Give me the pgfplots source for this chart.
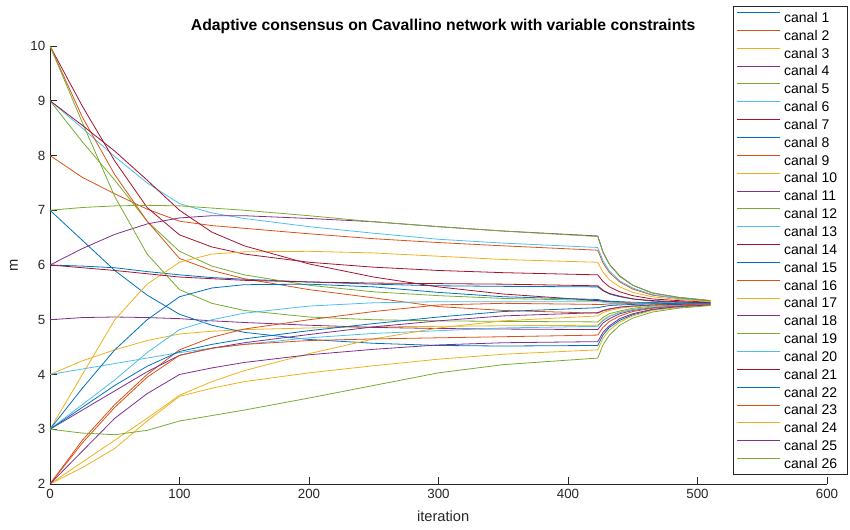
\documentclass[border=0pt]{standalone}
\usepackage{pgfplots}
\pgfplotsset{compat=1.18}
\usepackage{pgfplotstable}
\usepackage{fontspec}
\setmainfont{Liberation Sans}
\definecolor{mblue}{rgb}{0,0.447,0.741}
\definecolor{morange}{rgb}{0.85,0.325,0.098}
\definecolor{myellow}{rgb}{0.929,0.694,0.125}
\definecolor{mpurple}{rgb}{0.494,0.184,0.556}
\definecolor{mgreen}{rgb}{0.466,0.674,0.188}
\definecolor{mcyan}{rgb}{0.301,0.745,0.933}
\definecolor{mred}{rgb}{0.635,0.078,0.184}
\definecolor{axgray}{rgb}{0.15,0.15,0.15}
\pgfplotstableread{
x c1 c2 c3 c4 c5 c6 c7 c8 c9 c10 c11 c12 c13 c14 c15 c16 c17 c18 c19 c20 c21 c22 c23 c24 c25 c26
0 6 8 4 5 9 9 10 7 10 3 6 10 4 9 3 2 2 3 7 3 6 3 2 2 2 3
25 5.98 7.6 4.25 5.04 8.25 8.5 8.9 6.45 8.7 4.0 6.3 8.6 4.1 8.55 3.75 2.8 2.4 3.35 7.05 3.45 5.95 3.4 2.75 2.3 2.6 2.93
50 5.95 7.3 4.45 5.05 7.55 7.98 7.9 5.9 7.65 5.0 6.56 7.25 4.2 8.08 4.45 3.45 2.8 3.7 7.08 3.9 5.9 3.8 3.4 2.65 3.2 2.9
75 5.88 7.02 4.62 5.04 6.8 7.5 7.05 5.45 6.8 5.65 6.75 6.2 4.3 7.55 5.0 4.0 3.2 4.05 7.09 4.4 5.84 4.15 3.95 3.15 3.65 2.98
100 5.82 6.8 4.74 5.02 6.25 7.12 6.55 5.1 6.12 6.05 6.86 5.55 4.4 7.0 5.42 4.45 3.62 4.35 7.08 4.82 5.78 4.42 4.35 3.6 4.0 3.15
125 5.77 6.72 4.79 4.98 5.98 6.95 6.33 4.9 5.9 6.2 6.9 5.3 4.48 6.6 5.58 4.68 3.87 4.48 7.04 5.0 5.75 4.55 4.48 3.75 4.12 3.25
150 5.74 6.67 4.82 4.95 5.82 6.85 6.2 4.77 5.75 6.24 6.9 5.17 4.55 6.35 5.64 4.83 4.07 4.58 7.0 5.12 5.72 4.65 4.55 3.87 4.22 3.35
200 5.69 6.57 4.85 4.9 5.63 6.7 6.05 4.64 5.55 6.25 6.85 5.05 4.67 6.02 5.65 5.0 4.38 4.73 6.9 5.25 5.69 4.8 4.62 4.03 4.36 3.57
250 5.65 6.48 4.87 4.86 5.51 6.58 5.96 4.57 5.4 6.22 6.79 5.0 4.75 5.78 5.6 5.15 4.65 4.87 6.79 5.31 5.67 4.93 4.65 4.16 4.46 3.8
300 5.62 6.41 4.88 4.84 5.44 6.47 5.9 4.53 5.24 6.16 6.7 4.98 4.8 5.6 5.5 5.27 4.85 4.98 6.7 5.33 5.66 5.05 4.67 4.28 4.54 4.03
350 5.61 6.35 4.89 4.83 5.39 6.4 5.86 4.52 5.17 6.1 6.62 4.97 4.85 5.47 5.42 5.3 4.98 5.07 6.62 5.33 5.65 5.15 4.69 4.37 4.58 4.18
423 5.6 6.27 4.9 4.82 5.35 6.32 5.82 4.53 5.12 6.05 6.53 4.96 4.88 5.35 5.37 5.28 5.07 5.13 6.52 5.33 5.62 5.22 4.72 4.45 4.6 4.3
427 5.53 6.04 5.00 4.94 5.34 6.08 5.70 4.72 5.16 5.87 6.24 5.04 4.98 5.34 5.35 5.28 5.13 5.17 6.23 5.32 5.54 5.24 4.86 4.66 4.77 4.54
432 5.47 5.86 5.07 5.02 5.33 5.89 5.60 4.86 5.19 5.73 6.01 5.11 5.06 5.33 5.34 5.29 5.17 5.20 6.01 5.32 5.48 5.26 4.97 4.81 4.89 4.72
440 5.42 5.69 5.14 5.11 5.32 5.71 5.51 4.99 5.23 5.60 5.80 5.16 5.13 5.32 5.33 5.29 5.21 5.23 5.79 5.31 5.43 5.27 5.07 4.96 5.02 4.90
450 5.38 5.56 5.19 5.17 5.31 5.58 5.44 5.09 5.25 5.50 5.63 5.21 5.18 5.31 5.32 5.30 5.24 5.25 5.63 5.31 5.38 5.28 5.15 5.07 5.11 5.03
465 5.34 5.45 5.23 5.22 5.31 5.46 5.38 5.18 5.27 5.42 5.49 5.25 5.23 5.31 5.31 5.30 5.26 5.27 5.49 5.30 5.35 5.29 5.21 5.17 5.19 5.14
485 5.32 5.39 5.26 5.26 5.30 5.39 5.35 5.23 5.28 5.37 5.41 5.27 5.26 5.30 5.30 5.30 5.28 5.28 5.41 5.30 5.33 5.30 5.25 5.23 5.24 5.21
510 5.31 5.34 5.28 5.28 5.30 5.34 5.32 5.27 5.29 5.33 5.35 5.29 5.28 5.30 5.30 5.30 5.29 5.29 5.35 5.30 5.31 5.30 5.28 5.27 5.27 5.26
}\data
\begin{document}
\begin{tikzpicture}
\path[use as bounding box] (-37.5pt,-34.5pt) rectangle (600pt,363pt);
\begin{axis}[
  scale only axis, width=582.75pt, height=328.5pt,
  xmin=0, xmax=600, ymin=2, ymax=10,
  axis x line*=bottom, axis y line*=left,
  axis line style={-, draw=axgray, line width=0.6pt},
  xtick={0,100,...,600}, ytick={2,3,...,10},
  tick align=inside, major tick length=5pt,
  tick style={draw=axgray, line width=0.6pt},
  tick label style={font=\fontsize{10}{12}\selectfont, text=axgray},
  /pgf/number format/assume math mode=true,
  xlabel={iteration}, ylabel={m},
  label style={font=\fontsize{11}{13}\selectfont, text=axgray},
  xlabel style={at={(axis description cs:0.506,0)}, anchor=base, yshift=-28.5pt},
  ylabel style={at={(axis description cs:-0.0463,0.5)}, anchor=center},
  title={Adaptive consensus on Cavallino network with variable constraints},
  title style={font=\bfseries\fontsize{11.8}{14}\selectfont, at={(axis description cs:0.506,1)}, anchor=base, yshift=5.6pt},
  cycle list={{mblue},{morange},{myellow},{mpurple},{mgreen},{mcyan},{mred}},
  every axis plot/.append style={line width=0.6pt},
  legend cell align=left,
  legend image code/.code={\draw[#1] (0pt,3.6pt) -- (32.25pt,3.6pt);},
  legend style={at={(axis description cs:0.879,1.0913)}, anchor=north west,
    draw=axgray, line width=0.6pt, fill=white,
    font=\fontsize{10.5}{12}\selectfont,
    inner xsep=2.25pt, inner ysep=1.5pt, row sep=0pt,
    nodes={inner xsep=0pt, inner ysep=0pt, text height=10.5pt, text depth=2.88pt},
    /tikz/every odd column/.append style={column sep=3pt}},
]
\pgfplotsinvokeforeach{1,...,26}{
  \addplot table[x=x, y=c#1] {\data};
  \addlegendentry{canal #1\hspace*{5.25pt}}
}
\end{axis}
\end{tikzpicture}
\end{document}
